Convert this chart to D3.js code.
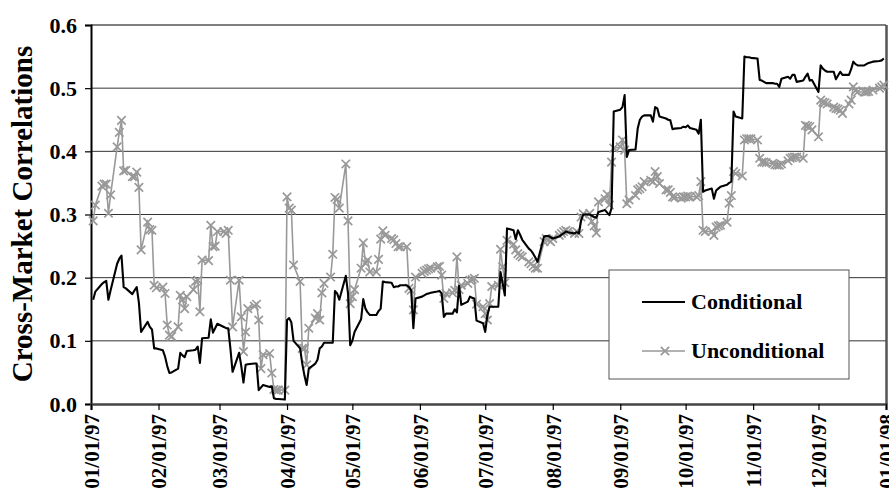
<!DOCTYPE html>
<html>
<head>
<meta charset="utf-8">
<script src="https://cdn.jsdelivr.net/npm/d3@7"></script>
<style>
  html, body { margin: 0; padding: 0; background: #fff; }
  svg text { font-family: "Liberation Serif", "Times New Roman", serif; font-weight: bold; fill: #000; }
</style>
</head>
<body>
<div id="container"></div>
<script>
// Trading days of 1997, one list per month
const monthDays = [
  [2,3,6,7,8,9,10,13,14,15,16,17,20,21,22,23,24,27,28,29,30,31],
  [3,4,5,6,7,10,11,12,13,14,17,18,19,20,21,24,25,26,27,28],
  [3,4,5,6,7,10,11,12,13,14,17,18,19,20,21,24,25,26,27,28,31],
  [1,2,3,4,7,8,9,10,11,14,15,16,17,18,21,22,23,24,25,28,29,30],
  [1,2,5,6,7,8,9,12,13,14,15,16,19,20,21,22,23,26,27,28,29,30],
  [2,3,4,5,6,9,10,11,12,13,16,17,18,19,20,23,24,25,26,27,30],
  [1,2,3,4,7,8,9,10,11,14,15,16,17,18,21,22,23,24,25,28,29,30,31],
  [1,4,5,6,7,8,11,12,13,14,15,18,19,20,21,22,25,26,27,28,29],
  [1,2,3,4,5,8,9,10,11,12,15,16,17,18,19,22,23,24,25,26,29,30],
  [1,2,3,6,7,8,9,10,13,14,15,16,17,20,21,22,23,24,27,28,29,30,31],
  [3,4,5,6,7,10,11,12,13,14,17,18,19,20,21,24,25,26,27,28],
  [1,2,3,4,5,8,9,10,11,12,15,16,17,18,19,22,23,24,26,29,30,31]
];

const conditional = [
  [.165,.178,.19,.193,.195,.165,.18,.222,.23,.235,.185,.183,.174,.18,.185,.16,.114,.13,.122,.118,.088,.088],
  [.085,.075,.06,.049,.05,.056,.081,.077,.074,.084,.085,.086,.091,.065,.104,.105,.134,.113,.12,.127],
  [.122,.12,.12,.088,.051,.081,.06,.034,.062,.063,.064,.064,.022,.026,.03,.027,.028,.009,.008,.008,.007],
  [.133,.136,.129,.1,.088,.064,.045,.03,.056,.064,.07,.088,.091,.097,.097,.097,.179,.175,.165,.203,.175,.093],
  [.1,.114,.134,.166,.151,.145,.141,.141,.147,.151,.194,.193,.192,.185,.186,.186,.188,.188,.185,.18,.12,.167],
  [.17,.172,.174,.175,.176,.178,.179,.175,.138,.143,.143,.15,.145,.187,.157,.162,.17,.168,.167,.132,.128],
  [.114,.141,.154,.154,.154,.209,.191,.172,.278,.275,.261,.275,.268,.26,.246,.243,.238,.232,.225,.265,.266,.266,.264],
  [.262,.265,.268,.27,.273,.272,.27,.272,.27,.29,.3,.3,.298,.296,.295,.304,.307,.303,.299,.31,.463],
  [.466,.47,.489,.391,.402,.403,.436,.45,.455,.457,.457,.447,.47,.468,.455,.452,.45,.449,.435,.436,.437,.439],
  [.438,.441,.437,.434,.428,.45,.336,.338,.341,.325,.338,.341,.344,.347,.35,.352,.463,.455,.452,.55,.549,.549,.548],
  [.547,.513,.512,.51,.508,.508,.507,.507,.502,.515,.518,.515,.521,.521,.51,.512,.518,.523,.512,.513],
  [.494,.536,.531,.528,.526,.526,.514,.52,.526,.521,.521,.53,.542,.538,.536,.536,.538,.54,.542,.543,.544,.547]
];

const unconditional = [
  [.29,.315,.345,.348,.348,.302,.331,.407,.43,.449,.369,.37,.36,.36,.367,.343,.244,.288,.276,.275,.188,.184],
  [.185,.175,.125,.109,.107,.122,.172,.165,.151,.17,.181,.194,.196,.146,.228,.227,.283,.249,.25,.273],
  [.273,.27,.275,.196,.122,.196,.138,.083,.114,.151,.155,.158,.133,.056,.078,.08,.049,.023,.022,.022,.022],
  [.328,.31,.307,.22,.194,.088,.088,.062,.12,.136,.143,.133,.176,.191,.201,.237,.327,.324,.31,.38,.29,.159],
  [.17,.181,.215,.255,.223,.228,.209,.209,.229,.261,.274,.267,.262,.26,.254,.249,.249,.249,.183,.18,.149,.201],
  [.207,.21,.212,.214,.215,.217,.218,.204,.167,.175,.176,.18,.233,.181,.188,.191,.196,.197,.199,.158,.154],
  [.143,.133,.159,.186,.188,.245,.217,.192,.259,.253,.244,.238,.235,.233,.225,.222,.218,.215,.215,.257,.262,.26,.257],
  [.262,.267,.27,.273,.275,.273,.27,.273,.27,.296,.301,.302,.289,.282,.271,.32,.325,.332,.315,.383,.405],
  [.407,.418,.402,.317,.323,.33,.339,.341,.344,.352,.354,.352,.368,.36,.349,.339,.339,.335,.328,.327,.326,.328],
  [.328,.329,.328,.328,.33,.352,.275,.273,.273,.267,.28,.282,.283,.288,.318,.33,.368,.365,.361,.418,.42,.42,.42],
  [.418,.389,.383,.383,.382,.381,.379,.378,.378,.38,.385,.389,.39,.391,.391,.389,.441,.44,.439,.434],
  [.423,.481,.478,.477,.475,.47,.468,.467,.465,.46,.475,.481,.502,.496,.494,.494,.494,.495,.497,.5,.502,.505]
];

const yTicks = [0, 0.1, 0.2, 0.3, 0.4, 0.5, 0.6];
const seriesNames = ["Conditional", "Unconditional"];

// flatten month lists into {date, value} rows
function toRows(values) {
  const rows = [];
  monthDays.forEach((days, m) => {
    days.forEach((d, i) => rows.push({ date: new Date(1997, m, d), value: values[m][i] }));
  });
  return rows;
}
const condData = toRows(conditional);
const uncondData = toRows(unconditional);

const W = 889, H = 489;
const plot = { left: 91, right: 886, top: 25, bottom: 404 };

const svg = d3.select("#container").append("svg")
  .attr("width", W)
  .attr("height", H);

const x = d3.scaleTime()
  .domain([new Date(1997, 0, 1), new Date(1998, 0, 1)])
  .range([plot.left, plot.right]);

const y = d3.scaleLinear()
  .domain([0, 0.6])
  .range([plot.bottom, plot.top]);

// gridlines
svg.append("g")
  .selectAll("line")
  .data(yTicks.filter(t => t > 0))
  .enter()
  .append("line")
  .attr("x1", plot.left)
  .attr("x2", plot.right)
  .attr("y1", d => y(d))
  .attr("y2", d => y(d))
  .attr("stroke", d => d === 0.6 ? "#555" : "#333")
  .attr("stroke-width", d => d === 0.6 ? 1.5 : 1);

// right border
svg.append("line")
  .attr("x1", plot.right + 0.5).attr("x2", plot.right + 0.5)
  .attr("y1", plot.top).attr("y2", plot.bottom)
  .attr("stroke", "#555")
  .attr("stroke-width", 2.5);

// Axes
const yAxis = svg.append("g")
  .attr("transform", `translate(${plot.left},0)`)
  .call(d3.axisLeft(y).tickValues(yTicks).tickFormat(d3.format(".1f")).tickSize(6).tickPadding(8));
yAxis.select(".domain").attr("stroke", "#000").attr("stroke-width", 2);
yAxis.selectAll(".tick line").attr("stroke", "#000").attr("stroke-width", 1.2);
yAxis.selectAll("text").style("font-size", "22px");

const xAxis = svg.append("g")
  .attr("transform", `translate(0,${plot.bottom})`)
  .call(d3.axisBottom(x).ticks(d3.timeMonth.every(1)).tickFormat(d3.timeFormat("%m/%d/%y")).tickSize(6));
xAxis.select(".domain").attr("stroke", "#444").attr("stroke-width", 2.5);
xAxis.selectAll(".tick line").attr("stroke", "#000").attr("stroke-width", 1.2);
xAxis.selectAll("text")
  .style("font-size", "21px")
  .style("text-anchor", "end")
  .attr("transform", "rotate(-90)")
  .attr("x", -10)
  .attr("y", 0)
  .attr("dy", "0.35em");

// Y axis label
svg.append("text")
  .attr("transform", "rotate(-90)")
  .attr("x", -214)
  .attr("y", 32)
  .attr("text-anchor", "middle")
  .style("font-size", "29px")
  .text("Cross-Market Correlations");

// Lines
const line = d3.line()
  .x(d => x(d.date))
  .y(d => y(d.value));

svg.append("path")
  .datum(uncondData)
  .attr("fill", "none")
  .attr("stroke", "#999")
  .attr("stroke-width", 1.6)
  .attr("d", line);

const cross = d3.symbol().type(d3.symbolTimes).size(48);

svg.append("g")
  .selectAll("path")
  .data(uncondData)
  .enter()
  .append("path")
  .attr("transform", d => `translate(${x(d.date)},${y(d.value)})`)
  .attr("d", cross)
  .attr("fill", "none")
  .attr("stroke", "#999")
  .attr("stroke-width", 1.7);

svg.append("path")
  .datum(condData)
  .attr("fill", "none")
  .attr("stroke", "#000")
  .attr("stroke-width", 2.1)
  .attr("stroke-linejoin", "round")
  .attr("d", line);

// Legend
const legend = svg.append("g").attr("transform", "translate(609,270)");

legend.append("rect")
  .attr("x", 0).attr("y", 0)
  .attr("width", 240).attr("height", 109)
  .attr("fill", "#fff")
  .attr("stroke", "#555")
  .attr("stroke-width", 1);

const rowsY = [32, 81];

legend.append("line")
  .attr("x1", 33).attr("x2", 76)
  .attr("y1", rowsY[0]).attr("y2", rowsY[0])
  .attr("stroke", "#000").attr("stroke-width", 2.1);

legend.append("line")
  .attr("x1", 33).attr("x2", 76)
  .attr("y1", rowsY[1]).attr("y2", rowsY[1])
  .attr("stroke", "#999").attr("stroke-width", 1.6);

legend.append("path")
  .attr("transform", `translate(56,${rowsY[1]})`)
  .attr("d", cross)
  .attr("fill", "none")
  .attr("stroke", "#999")
  .attr("stroke-width", 1.7);

legend.selectAll("text.label")
  .data(seriesNames)
  .enter()
  .append("text")
  .attr("class", "label")
  .attr("x", 82)
  .attr("y", (d, i) => rowsY[i])
  .attr("dy", "0.32em")
  .style("font-size", "22px")
  .text(d => d);
</script>
</body>
</html>
